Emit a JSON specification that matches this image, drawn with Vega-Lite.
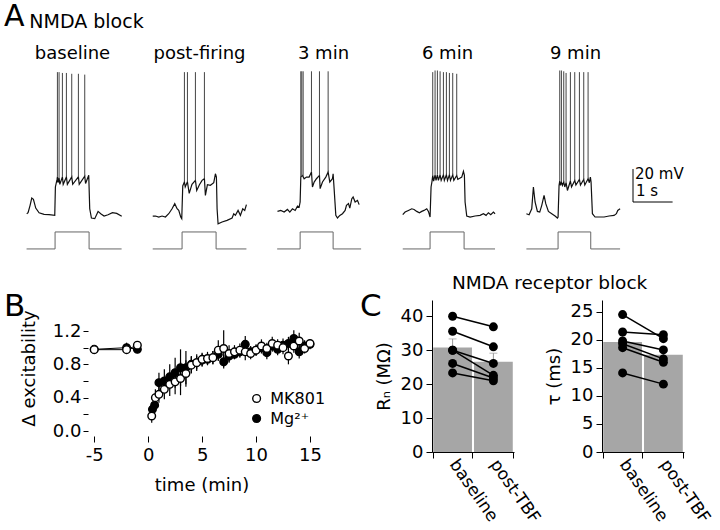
{
"$schema":"https://vega.github.io/schema/vega-lite/v6.json",
"padding":{"left":4,"top":2,"right":0,"bottom":0},
"background":"white",
"config":{
 "font":"DejaVu Sans",
 "view":{"stroke":null},
 "title":{"font":"DejaVu Sans","fontSize":18,"fontWeight":"normal","color":"black"},
 "axis":{"domainColor":"black","tickColor":"black","labelColor":"black","titleColor":"black","labelFont":"DejaVu Sans","titleFont":"DejaVu Sans","labelFontSize":18,"titleFontSize":18,"titleFontWeight":"normal","grid":false,"labelFlush":false,"labelOverlap":false},
 "legend":{"labelFont":"DejaVu Sans","labelColor":"black"}
},
"datasets":{
 "vm":[
  {"cond":"baseline","t":0.034,"v":-64.8},{"cond":"baseline","t":0.068,"v":-64.2},{"cond":"baseline","t":0.119,"v":-59.7},{"cond":"baseline","t":0.161,"v":-55.3},{"cond":"baseline","t":0.203,"v":-56.1},{"cond":"baseline","t":0.262,"v":-61.4},{"cond":"baseline","t":0.346,"v":-64.2},{"cond":"baseline","t":0.472,"v":-65.2},{"cond":"baseline","t":0.598,"v":-65.4},{"cond":"baseline","t":0.742,"v":-65.8},{"cond":"baseline","t":0.758,"v":-48.6},{"cond":"baseline","t":0.8,"v":-44.0},{"cond":"baseline","t":0.809,"v":-42.5},{"cond":"baseline","t":0.825,"v":-46.0},{"cond":"baseline","t":0.851,"v":-43.0},{"cond":"baseline","t":0.87,"v":-47.0},{"cond":"baseline","t":0.935,"v":-42.5},{"cond":"baseline","t":0.955,"v":-47.0},{"cond":"baseline","t":1.036,"v":-42.5},{"cond":"baseline","t":1.06,"v":-47.0},{"cond":"baseline","t":1.171,"v":-42.5},{"cond":"baseline","t":1.195,"v":-47.0},{"cond":"baseline","t":1.339,"v":-42.5},{"cond":"baseline","t":1.36,"v":-47.0},{"cond":"baseline","t":1.499,"v":-42.0},{"cond":"baseline","t":1.52,"v":-46.5},{"cond":"baseline","t":1.6,"v":-41.5},{"cond":"baseline","t":1.625,"v":-61.8},{"cond":"baseline","t":1.668,"v":-67.4},{"cond":"baseline","t":1.752,"v":-67.8},{"cond":"baseline","t":1.836,"v":-63.4},{"cond":"baseline","t":1.903,"v":-64.8},{"cond":"baseline","t":1.987,"v":-66.2},{"cond":"baseline","t":2.088,"v":-65.4},{"cond":"baseline","t":2.198,"v":-64.2},{"cond":"baseline","t":2.307,"v":-64.6},{"cond":"baseline","t":2.433,"v":-66.4},
  {"cond":"post","t":0.009,"v":-66.2},{"cond":"post","t":0.077,"v":-66.2},{"cond":"post","t":0.161,"v":-66.8},{"cond":"post","t":0.245,"v":-66.2},{"cond":"post","t":0.329,"v":-66.8},{"cond":"post","t":0.413,"v":-64.8},{"cond":"post","t":0.497,"v":-61.8},{"cond":"post","t":0.565,"v":-58.7},{"cond":"post","t":0.624,"v":-61.8},{"cond":"post","t":0.666,"v":-62.8},{"cond":"post","t":0.716,"v":-66.8},{"cond":"post","t":0.742,"v":-67.8},{"cond":"post","t":0.767,"v":-48.0},{"cond":"post","t":0.809,"v":-45.5},{"cond":"post","t":0.83,"v":-48.5},{"cond":"post","t":0.885,"v":-45.5},{"cond":"post","t":0.93,"v":-52.5},{"cond":"post","t":1.0,"v":-47.0},{"cond":"post","t":1.087,"v":-44.6},{"cond":"post","t":1.12,"v":-50.7},{"cond":"post","t":1.188,"v":-47.2},{"cond":"post","t":1.255,"v":-44.6},{"cond":"post","t":1.314,"v":-43.6},{"cond":"post","t":1.339,"v":-53.7},{"cond":"post","t":1.39,"v":-47.2},{"cond":"post","t":1.465,"v":-47.6},{"cond":"post","t":1.55,"v":-46.0},{"cond":"post","t":1.592,"v":-40.6},{"cond":"post","t":1.617,"v":-42.6},{"cond":"post","t":1.634,"v":-61.8},{"cond":"post","t":1.659,"v":-70.9},{"cond":"post","t":1.76,"v":-69.8},{"cond":"post","t":1.886,"v":-68.8},{"cond":"post","t":2.013,"v":-67.4},{"cond":"post","t":2.055,"v":-64.8},{"cond":"post","t":2.097,"v":-65.8},{"cond":"post","t":2.164,"v":-62.8},{"cond":"post","t":2.223,"v":-65.8},{"cond":"post","t":2.282,"v":-61.8},{"cond":"post","t":2.332,"v":-62.8},{"cond":"post","t":2.375,"v":-59.3},
  {"cond":"m3","t":0.028,"v":-63.4},{"cond":"m3","t":0.112,"v":-62.8},{"cond":"m3","t":0.196,"v":-63.8},{"cond":"m3","t":0.28,"v":-62.2},{"cond":"m3","t":0.339,"v":-63.8},{"cond":"m3","t":0.406,"v":-61.8},{"cond":"m3","t":0.474,"v":-62.8},{"cond":"m3","t":0.533,"v":-60.2},{"cond":"m3","t":0.575,"v":-60.8},{"cond":"m3","t":0.6,"v":-57.7},{"cond":"m3","t":0.617,"v":-42.6},{"cond":"m3","t":0.659,"v":-41.6},{"cond":"m3","t":0.701,"v":-43.6},{"cond":"m3","t":0.76,"v":-42.6},{"cond":"m3","t":0.827,"v":-42.6},{"cond":"m3","t":0.886,"v":-39.5},{"cond":"m3","t":0.911,"v":-48.6},{"cond":"m3","t":0.954,"v":-45.6},{"cond":"m3","t":1.012,"v":-43.6},{"cond":"m3","t":1.088,"v":-41.6},{"cond":"m3","t":1.105,"v":-49.6},{"cond":"m3","t":1.164,"v":-45.6},{"cond":"m3","t":1.248,"v":-42.6},{"cond":"m3","t":1.307,"v":-39.5},{"cond":"m3","t":1.349,"v":-45.6},{"cond":"m3","t":1.416,"v":-43.6},{"cond":"m3","t":1.433,"v":-40.6},{"cond":"m3","t":1.458,"v":-49.6},{"cond":"m3","t":1.501,"v":-65.8},{"cond":"m3","t":1.543,"v":-67.4},{"cond":"m3","t":1.602,"v":-65.8},{"cond":"m3","t":1.669,"v":-64.8},{"cond":"m3","t":1.736,"v":-62.8},{"cond":"m3","t":1.77,"v":-59.7},{"cond":"m3","t":1.821,"v":-58.7},{"cond":"m3","t":1.854,"v":-61.4},{"cond":"m3","t":1.905,"v":-55.7},{"cond":"m3","t":1.938,"v":-54.7},{"cond":"m3","t":1.989,"v":-57.7},{"cond":"m3","t":2.048,"v":-56.7},{"cond":"m3","t":2.09,"v":-59.3},
  {"cond":"m6","t":0.06,"v":-65.4},{"cond":"m6","t":0.119,"v":-63.8},{"cond":"m6","t":0.203,"v":-62.8},{"cond":"m6","t":0.287,"v":-61.8},{"cond":"m6","t":0.346,"v":-62.2},{"cond":"m6","t":0.413,"v":-63.4},{"cond":"m6","t":0.481,"v":-64.2},{"cond":"m6","t":0.54,"v":-63.4},{"cond":"m6","t":0.598,"v":-62.8},{"cond":"m6","t":0.666,"v":-61.8},{"cond":"m6","t":0.708,"v":-63.4},{"cond":"m6","t":0.75,"v":-66.8},{"cond":"m6","t":0.775,"v":-48.6},{"cond":"m6","t":0.8,"v":-45.0},{"cond":"m6","t":0.817,"v":-41.5},{"cond":"m6","t":0.84,"v":-45.0},{"cond":"m6","t":0.876,"v":-41.2},{"cond":"m6","t":0.9,"v":-44.6},{"cond":"m6","t":0.935,"v":-41.2},{"cond":"m6","t":0.96,"v":-44.6},{"cond":"m6","t":1.003,"v":-41.2},{"cond":"m6","t":1.03,"v":-44.6},{"cond":"m6","t":1.087,"v":-41.2},{"cond":"m6","t":1.11,"v":-44.6},{"cond":"m6","t":1.162,"v":-41.2},{"cond":"m6","t":1.19,"v":-44.6},{"cond":"m6","t":1.238,"v":-41.2},{"cond":"m6","t":1.265,"v":-44.6},{"cond":"m6","t":1.322,"v":-41.2},{"cond":"m6","t":1.35,"v":-44.6},{"cond":"m6","t":1.423,"v":-41.6},{"cond":"m6","t":1.45,"v":-44.0},{"cond":"m6","t":1.55,"v":-42.6},{"cond":"m6","t":1.592,"v":-39.1},{"cond":"m6","t":1.617,"v":-41.6},{"cond":"m6","t":1.634,"v":-57.7},{"cond":"m6","t":1.676,"v":-66.2},{"cond":"m6","t":1.76,"v":-66.8},{"cond":"m6","t":1.886,"v":-66.2},{"cond":"m6","t":2.013,"v":-65.8},{"cond":"m6","t":2.097,"v":-64.8},{"cond":"m6","t":2.164,"v":-65.8},{"cond":"m6","t":2.223,"v":-64.2},{"cond":"m6","t":2.282,"v":-65.4},{"cond":"m6","t":2.349,"v":-63.8},{"cond":"m6","t":2.391,"v":-64.8},
  {"cond":"m9","t":-0.05,"v":-64.8},{"cond":"m9","t":0.018,"v":-65.4},{"cond":"m9","t":0.085,"v":-61.8},{"cond":"m9","t":0.127,"v":-48.6},{"cond":"m9","t":0.169,"v":-57.7},{"cond":"m9","t":0.228,"v":-63.4},{"cond":"m9","t":0.287,"v":-63.8},{"cond":"m9","t":0.338,"v":-59.7},{"cond":"m9","t":0.396,"v":-53.7},{"cond":"m9","t":0.439,"v":-58.7},{"cond":"m9","t":0.506,"v":-63.4},{"cond":"m9","t":0.59,"v":-64.8},{"cond":"m9","t":0.674,"v":-66.2},{"cond":"m9","t":0.733,"v":-67.4},{"cond":"m9","t":0.75,"v":-66.8},{"cond":"m9","t":0.775,"v":-47.6},{"cond":"m9","t":0.792,"v":-45.0},{"cond":"m9","t":0.81,"v":-47.6},{"cond":"m9","t":0.834,"v":-45.6},{"cond":"m9","t":0.86,"v":-47.6},{"cond":"m9","t":0.893,"v":-45.6},{"cond":"m9","t":0.92,"v":-48.6},{"cond":"m9","t":0.952,"v":-46.0},{"cond":"m9","t":0.986,"v":-50.7},{"cond":"m9","t":1.061,"v":-45.0},{"cond":"m9","t":1.09,"v":-48.6},{"cond":"m9","t":1.171,"v":-44.6},{"cond":"m9","t":1.2,"v":-47.4},{"cond":"m9","t":1.289,"v":-44.0},{"cond":"m9","t":1.315,"v":-47.4},{"cond":"m9","t":1.398,"v":-44.0},{"cond":"m9","t":1.425,"v":-47.4},{"cond":"m9","t":1.508,"v":-43.6},{"cond":"m9","t":1.54,"v":-46.0},{"cond":"m9","t":1.566,"v":-42.6},{"cond":"m9","t":1.583,"v":-45.6},{"cond":"m9","t":1.617,"v":-64.8},{"cond":"m9","t":1.684,"v":-66.8},{"cond":"m9","t":1.785,"v":-66.8},{"cond":"m9","t":1.912,"v":-66.8},{"cond":"m9","t":2.038,"v":-66.2},{"cond":"m9","t":2.164,"v":-65.8},{"cond":"m9","t":2.223,"v":-64.8},{"cond":"m9","t":2.257,"v":-62.8},{"cond":"m9","t":2.316,"v":-61.8}
 ],
 "spikes":[
  {"cond":"baseline","t":0.809,"vb":-42.5,"vpk":21},{"cond":"baseline","t":0.851,"vb":-43,"vpk":21},{"cond":"baseline","t":0.935,"vb":-42.5,"vpk":20.5},{"cond":"baseline","t":1.036,"vb":-42.5,"vpk":20.5},{"cond":"baseline","t":1.171,"vb":-42.5,"vpk":20},{"cond":"baseline","t":1.339,"vb":-42.5,"vpk":20},{"cond":"baseline","t":1.499,"vb":-42,"vpk":19.5},
  {"cond":"post","t":0.809,"vb":-45.5,"vpk":21},{"cond":"post","t":0.885,"vb":-45.5,"vpk":21},{"cond":"post","t":1.087,"vb":-44.6,"vpk":21},{"cond":"post","t":1.314,"vb":-43.6,"vpk":21},
  {"cond":"m3","t":0.617,"vb":-42.6,"vpk":21.5},{"cond":"m3","t":0.642,"vb":-42,"vpk":21.5},{"cond":"m3","t":0.676,"vb":-42.5,"vpk":21.5},{"cond":"m3","t":0.886,"vb":-39.5,"vpk":21.5},{"cond":"m3","t":1.088,"vb":-41.6,"vpk":21.5},{"cond":"m3","t":1.307,"vb":-39.5,"vpk":21.5},
  {"cond":"m6","t":0.817,"vb":-41.5,"vpk":21},{"cond":"m6","t":0.876,"vb":-41.2,"vpk":22},{"cond":"m6","t":0.935,"vb":-41.2,"vpk":22},{"cond":"m6","t":1.003,"vb":-41.2,"vpk":21.5},{"cond":"m6","t":1.087,"vb":-41.2,"vpk":21},{"cond":"m6","t":1.162,"vb":-41.2,"vpk":21},{"cond":"m6","t":1.238,"vb":-41.2,"vpk":20.5},{"cond":"m6","t":1.322,"vb":-41.2,"vpk":20.5},{"cond":"m6","t":1.423,"vb":-41.6,"vpk":20},
  {"cond":"m9","t":0.792,"vb":-45,"vpk":22},{"cond":"m9","t":0.834,"vb":-45.6,"vpk":22},{"cond":"m9","t":0.893,"vb":-45.6,"vpk":21.5},{"cond":"m9","t":0.952,"vb":-46,"vpk":20.5},{"cond":"m9","t":1.061,"vb":-45,"vpk":21},{"cond":"m9","t":1.171,"vb":-44.6,"vpk":21},{"cond":"m9","t":1.289,"vb":-44,"vpk":21},{"cond":"m9","t":1.398,"vb":-44,"vpk":21},{"cond":"m9","t":1.508,"vb":-43.6,"vpk":21}
 ],
 "step":[
  {"cond":"baseline","k":0,"t":0.03,"I":0},{"cond":"baseline","k":1,"t":0.75,"I":0},{"cond":"baseline","k":2,"t":0.75,"I":1},{"cond":"baseline","k":3,"t":1.609,"I":1},{"cond":"baseline","k":4,"t":1.609,"I":0},{"cond":"baseline","k":5,"t":2.43,"I":0},
  {"cond":"post","k":0,"t":0.009,"I":0},{"cond":"post","k":1,"t":0.75,"I":0},{"cond":"post","k":2,"t":0.75,"I":1},{"cond":"post","k":3,"t":1.609,"I":1},{"cond":"post","k":4,"t":1.609,"I":0},{"cond":"post","k":5,"t":2.375,"I":0},
  {"cond":"m3","k":0,"t":0.02,"I":0},{"cond":"m3","k":1,"t":0.6,"I":0},{"cond":"m3","k":2,"t":0.6,"I":1},{"cond":"m3","k":3,"t":1.433,"I":1},{"cond":"m3","k":4,"t":1.433,"I":0},{"cond":"m3","k":5,"t":2.14,"I":0},
  {"cond":"m6","k":0,"t":0.06,"I":0},{"cond":"m6","k":1,"t":0.75,"I":0},{"cond":"m6","k":2,"t":0.75,"I":1},{"cond":"m6","k":3,"t":1.609,"I":1},{"cond":"m6","k":4,"t":1.609,"I":0},{"cond":"m6","k":5,"t":2.39,"I":0},
  {"cond":"m9","k":0,"t":-0.05,"I":0},{"cond":"m9","k":1,"t":0.75,"I":0},{"cond":"m9","k":2,"t":0.75,"I":1},{"cond":"m9","k":3,"t":1.575,"I":1},{"cond":"m9","k":4,"t":1.575,"I":0},{"cond":"m9","k":5,"t":2.316,"I":0}
 ],
 "excit":[
  {"group":"Mg²⁺","t":-5,"ratio":0.98,"sem":0.02},{"group":"Mg²⁺","t":-2,"ratio":1.0,"sem":0.06},{"group":"Mg²⁺","t":-1,"ratio":0.98,"sem":0.03},
  {"group":"Mg²⁺","t":0.4,"ratio":0.26,"sem":0.08},{"group":"Mg²⁺","t":0.6,"ratio":0.31,"sem":0.08},{"group":"Mg²⁺","t":1.0,"ratio":0.58,"sem":0.12},{"group":"Mg²⁺","t":1.5,"ratio":0.6,"sem":0.14},{"group":"Mg²⁺","t":2.0,"ratio":0.65,"sem":0.15},{"group":"Mg²⁺","t":2.5,"ratio":0.7,"sem":0.18},{"group":"Mg²⁺","t":3.0,"ratio":0.76,"sem":0.22},{"group":"Mg²⁺","t":3.5,"ratio":0.76,"sem":0.2},{"group":"Mg²⁺","t":4.0,"ratio":0.8,"sem":0.1},{"group":"Mg²⁺","t":4.5,"ratio":0.82,"sem":0.08},{"group":"Mg²⁺","t":5.0,"ratio":0.85,"sem":0.08},{"group":"Mg²⁺","t":5.5,"ratio":0.86,"sem":0.07},{"group":"Mg²⁺","t":6.0,"ratio":0.88,"sem":0.08},{"group":"Mg²⁺","t":6.5,"ratio":0.92,"sem":0.08},{"group":"Mg²⁺","t":7.0,"ratio":0.83,"sem":0.08},{"group":"Mg²⁺","t":7.5,"ratio":0.9,"sem":0.08},{"group":"Mg²⁺","t":8.0,"ratio":0.92,"sem":0.06},{"group":"Mg²⁺","t":8.5,"ratio":0.95,"sem":0.07},{"group":"Mg²⁺","t":9.0,"ratio":1.04,"sem":0.1},{"group":"Mg²⁺","t":9.5,"ratio":0.95,"sem":0.07},{"group":"Mg²⁺","t":10.0,"ratio":0.97,"sem":0.06},{"group":"Mg²⁺","t":10.5,"ratio":1.0,"sem":0.07},{"group":"Mg²⁺","t":11.0,"ratio":0.94,"sem":0.08},{"group":"Mg²⁺","t":11.5,"ratio":1.02,"sem":0.07},{"group":"Mg²⁺","t":12.0,"ratio":0.98,"sem":0.07},{"group":"Mg²⁺","t":12.5,"ratio":1.03,"sem":0.08},{"group":"Mg²⁺","t":13.0,"ratio":1.05,"sem":0.08},{"group":"Mg²⁺","t":13.5,"ratio":1.11,"sem":0.1},{"group":"Mg²⁺","t":14.0,"ratio":0.95,"sem":0.08},{"group":"Mg²⁺","t":14.5,"ratio":1.02,"sem":0.07},{"group":"Mg²⁺","t":15.0,"ratio":1.04,"sem":0.06},
  {"group":"MK801","t":-5,"ratio":0.976,"sem":0.02},{"group":"MK801","t":-2,"ratio":0.976,"sem":0.03},{"group":"MK801","t":-1,"ratio":1.03,"sem":0.04},
  {"group":"MK801","t":0.33,"ratio":0.18,"sem":0.08},{"group":"MK801","t":0.67,"ratio":0.4,"sem":0.1},{"group":"MK801","t":1.0,"ratio":0.44,"sem":0.1},{"group":"MK801","t":1.5,"ratio":0.5,"sem":0.12},{"group":"MK801","t":2.0,"ratio":0.56,"sem":0.14},{"group":"MK801","t":2.5,"ratio":0.59,"sem":0.15},{"group":"MK801","t":3.0,"ratio":0.63,"sem":0.2},{"group":"MK801","t":3.5,"ratio":0.69,"sem":0.16},{"group":"MK801","t":4.0,"ratio":0.79,"sem":0.1},{"group":"MK801","t":4.5,"ratio":0.82,"sem":0.1},{"group":"MK801","t":5.0,"ratio":0.86,"sem":0.08},{"group":"MK801","t":5.5,"ratio":0.87,"sem":0.08},{"group":"MK801","t":6.0,"ratio":0.88,"sem":0.08},{"group":"MK801","t":6.5,"ratio":0.97,"sem":0.12},{"group":"MK801","t":7.0,"ratio":0.99,"sem":0.22},{"group":"MK801","t":7.5,"ratio":0.93,"sem":0.1},{"group":"MK801","t":8.0,"ratio":0.95,"sem":0.08},{"group":"MK801","t":8.5,"ratio":0.97,"sem":0.08},{"group":"MK801","t":9.0,"ratio":0.95,"sem":0.1},{"group":"MK801","t":9.5,"ratio":0.93,"sem":0.07},{"group":"MK801","t":10.0,"ratio":0.97,"sem":0.07},{"group":"MK801","t":10.5,"ratio":1.02,"sem":0.08},{"group":"MK801","t":11.0,"ratio":0.99,"sem":0.07},{"group":"MK801","t":11.5,"ratio":1.05,"sem":0.08},{"group":"MK801","t":12.0,"ratio":1.03,"sem":0.07},{"group":"MK801","t":12.5,"ratio":1.0,"sem":0.08},{"group":"MK801","t":13.0,"ratio":0.9,"sem":0.1},{"group":"MK801","t":13.5,"ratio":1.02,"sem":0.08},{"group":"MK801","t":14.0,"ratio":1.08,"sem":0.1},{"group":"MK801","t":14.5,"ratio":0.99,"sem":0.06},{"group":"MK801","t":15.0,"ratio":1.05,"sem":0.05}
 ],
 "cells":[
  {"panel":"RN","cell":1,"cond":"baseline","val":40.0},{"panel":"RN","cell":1,"cond":"post-TBF","val":36.9},
  {"panel":"RN","cell":2,"cond":"baseline","val":35.6},{"panel":"RN","cell":2,"cond":"post-TBF","val":31.0},
  {"panel":"RN","cell":3,"cond":"baseline","val":30.0},{"panel":"RN","cell":3,"cond":"post-TBF","val":26.1},
  {"panel":"RN","cell":4,"cond":"baseline","val":30.0},{"panel":"RN","cell":4,"cond":"post-TBF","val":22.6},
  {"panel":"RN","cell":5,"cond":"baseline","val":26.1},{"panel":"RN","cell":5,"cond":"post-TBF","val":21.8},
  {"panel":"RN","cell":6,"cond":"baseline","val":23.3},{"panel":"RN","cell":6,"cond":"post-TBF","val":21.0},
  {"panel":"tau","cell":1,"cond":"baseline","val":24.5},{"panel":"tau","cell":1,"cond":"post-TBF","val":20.2},
  {"panel":"tau","cell":2,"cond":"baseline","val":21.4},{"panel":"tau","cell":2,"cond":"post-TBF","val":20.9},
  {"panel":"tau","cell":3,"cond":"baseline","val":19.8},{"panel":"tau","cell":3,"cond":"post-TBF","val":18.2},
  {"panel":"tau","cell":4,"cond":"baseline","val":19.3},{"panel":"tau","cell":4,"cond":"post-TBF","val":16.6},
  {"panel":"tau","cell":5,"cond":"baseline","val":18.6},{"panel":"tau","cell":5,"cond":"post-TBF","val":16.0},
  {"panel":"tau","cell":6,"cond":"baseline","val":14.1},{"panel":"tau","cell":6,"cond":"post-TBF","val":12.1}
 ]
},
"spacing":22,
"vconcat":[
 {
  "title":{"text":"A","fontSize":30,"anchor":"start","frame":"bounds","dx":-19,"offset":-19},
  "spacing":7,
  "hconcat":[
   {"title":{"text":"NMDA block","fontSize":19,"anchor":"start","frame":"bounds","dx":6.3,"offset":12.8},
    "spacing":25,"hconcat":[
    {"width":99,"height":183,"title":{"text":"baseline","offset":6},
     "layer":[
      {"data":{"name":"vm"},"transform":[{"filter":"datum.cond === 'baseline'"}],"mark":{"type":"line","color":"#111111","strokeWidth":1.2},
       "encoding":{"x":{"field":"t","type":"quantitative","scale":{"domain":[-0.06,2.44],"nice":false,"zero":false},"axis":null},"y":{"field":"v","type":"quantitative","scale":{"domain":[-88,22.9],"nice":false,"zero":false},"axis":null}}},
      {"data":{"name":"spikes"},"transform":[{"filter":"datum.cond === 'baseline'"}],"mark":{"type":"rule","color":"#444444","strokeWidth":1},
       "encoding":{"x":{"field":"t","type":"quantitative","scale":{"domain":[-0.06,2.44],"nice":false,"zero":false},"axis":null},"y":{"field":"vb","type":"quantitative","scale":{"domain":[-88,22.9],"nice":false,"zero":false},"axis":null},"y2":{"field":"vpk"}}},
      {"data":{"name":"step"},"transform":[{"filter":"datum.cond === 'baseline'"}],"mark":{"type":"line","color":"#666666","strokeWidth":1},
       "encoding":{"x":{"field":"t","type":"quantitative","scale":{"domain":[-0.06,2.44],"nice":false,"zero":false},"axis":null},"y":{"field":"I","type":"quantitative","scale":{"domain":[-0.18,10.6],"nice":false,"zero":false},"axis":null},"order":{"field":"k","type":"quantitative"}}}
     ],
     "resolve":{"scale":{"y":"independent"}}},
    {"width":99,"height":183,"title":{"text":"post-firing","offset":6},
     "layer":[
      {"data":{"name":"vm"},"transform":[{"filter":"datum.cond === 'post'"}],"mark":{"type":"line","color":"#111111","strokeWidth":1.2},
       "encoding":{"x":{"field":"t","type":"quantitative","scale":{"domain":[-0.06,2.44],"nice":false,"zero":false},"axis":null},"y":{"field":"v","type":"quantitative","scale":{"domain":[-88,22.9],"nice":false,"zero":false},"axis":null}}},
      {"data":{"name":"spikes"},"transform":[{"filter":"datum.cond === 'post'"}],"mark":{"type":"rule","color":"#444444","strokeWidth":1},
       "encoding":{"x":{"field":"t","type":"quantitative","scale":{"domain":[-0.06,2.44],"nice":false,"zero":false},"axis":null},"y":{"field":"vb","type":"quantitative","scale":{"domain":[-88,22.9],"nice":false,"zero":false},"axis":null},"y2":{"field":"vpk"}}},
      {"data":{"name":"step"},"transform":[{"filter":"datum.cond === 'post'"}],"mark":{"type":"line","color":"#666666","strokeWidth":1},
       "encoding":{"x":{"field":"t","type":"quantitative","scale":{"domain":[-0.06,2.44],"nice":false,"zero":false},"axis":null},"y":{"field":"I","type":"quantitative","scale":{"domain":[-0.18,10.6],"nice":false,"zero":false},"axis":null},"order":{"field":"k","type":"quantitative"}}}
     ],
     "resolve":{"scale":{"y":"independent"}}},
    {"width":99,"height":183,"title":{"text":"3 min","offset":6},
     "layer":[
      {"data":{"name":"vm"},"transform":[{"filter":"datum.cond === 'm3'"}],"mark":{"type":"line","color":"#111111","strokeWidth":1.2},
       "encoding":{"x":{"field":"t","type":"quantitative","scale":{"domain":[-0.06,2.44],"nice":false,"zero":false},"axis":null},"y":{"field":"v","type":"quantitative","scale":{"domain":[-88,22.9],"nice":false,"zero":false},"axis":null}}},
      {"data":{"name":"spikes"},"transform":[{"filter":"datum.cond === 'm3'"}],"mark":{"type":"rule","color":"#444444","strokeWidth":1},
       "encoding":{"x":{"field":"t","type":"quantitative","scale":{"domain":[-0.06,2.44],"nice":false,"zero":false},"axis":null},"y":{"field":"vb","type":"quantitative","scale":{"domain":[-88,22.9],"nice":false,"zero":false},"axis":null},"y2":{"field":"vpk"}}},
      {"data":{"name":"step"},"transform":[{"filter":"datum.cond === 'm3'"}],"mark":{"type":"line","color":"#666666","strokeWidth":1},
       "encoding":{"x":{"field":"t","type":"quantitative","scale":{"domain":[-0.06,2.44],"nice":false,"zero":false},"axis":null},"y":{"field":"I","type":"quantitative","scale":{"domain":[-0.18,10.6],"nice":false,"zero":false},"axis":null},"order":{"field":"k","type":"quantitative"}}}
     ],
     "resolve":{"scale":{"y":"independent"}}},
    {"width":99,"height":183,"title":{"text":"6 min","offset":6},
     "layer":[
      {"data":{"name":"vm"},"transform":[{"filter":"datum.cond === 'm6'"}],"mark":{"type":"line","color":"#111111","strokeWidth":1.2},
       "encoding":{"x":{"field":"t","type":"quantitative","scale":{"domain":[-0.06,2.44],"nice":false,"zero":false},"axis":null},"y":{"field":"v","type":"quantitative","scale":{"domain":[-88,22.9],"nice":false,"zero":false},"axis":null}}},
      {"data":{"name":"spikes"},"transform":[{"filter":"datum.cond === 'm6'"}],"mark":{"type":"rule","color":"#444444","strokeWidth":1},
       "encoding":{"x":{"field":"t","type":"quantitative","scale":{"domain":[-0.06,2.44],"nice":false,"zero":false},"axis":null},"y":{"field":"vb","type":"quantitative","scale":{"domain":[-88,22.9],"nice":false,"zero":false},"axis":null},"y2":{"field":"vpk"}}},
      {"data":{"name":"step"},"transform":[{"filter":"datum.cond === 'm6'"}],"mark":{"type":"line","color":"#666666","strokeWidth":1},
       "encoding":{"x":{"field":"t","type":"quantitative","scale":{"domain":[-0.06,2.44],"nice":false,"zero":false},"axis":null},"y":{"field":"I","type":"quantitative","scale":{"domain":[-0.18,10.6],"nice":false,"zero":false},"axis":null},"order":{"field":"k","type":"quantitative"}}}
     ],
     "resolve":{"scale":{"y":"independent"}}},
    {"width":99,"height":183,"title":{"text":"9 min","offset":6},
     "layer":[
      {"data":{"name":"vm"},"transform":[{"filter":"datum.cond === 'm9'"}],"mark":{"type":"line","color":"#111111","strokeWidth":1.2},
       "encoding":{"x":{"field":"t","type":"quantitative","scale":{"domain":[-0.06,2.44],"nice":false,"zero":false},"axis":null},"y":{"field":"v","type":"quantitative","scale":{"domain":[-88,22.9],"nice":false,"zero":false},"axis":null}}},
      {"data":{"name":"spikes"},"transform":[{"filter":"datum.cond === 'm9'"}],"mark":{"type":"rule","color":"#444444","strokeWidth":1},
       "encoding":{"x":{"field":"t","type":"quantitative","scale":{"domain":[-0.06,2.44],"nice":false,"zero":false},"axis":null},"y":{"field":"vb","type":"quantitative","scale":{"domain":[-88,22.9],"nice":false,"zero":false},"axis":null},"y2":{"field":"vpk"}}},
      {"data":{"name":"step"},"transform":[{"filter":"datum.cond === 'm9'"}],"mark":{"type":"line","color":"#666666","strokeWidth":1},
       "encoding":{"x":{"field":"t","type":"quantitative","scale":{"domain":[-0.06,2.44],"nice":false,"zero":false},"axis":null},"y":{"field":"I","type":"quantitative","scale":{"domain":[-0.18,10.6],"nice":false,"zero":false},"axis":null},"order":{"field":"k","type":"quantitative"}}}
     ],
     "resolve":{"scale":{"y":"independent"}}}
   ]},
   {"width":60,"height":183,
    "data":{"values":[{}]},
    "layer":[
     {"mark":{"type":"rule","color":"black","strokeWidth":1},"encoding":{"x":{"datum":0,"type":"quantitative","scale":{"domain":[0,1.515],"nice":false,"zero":false},"axis":null},"y":{"datum":-57.7,"type":"quantitative","scale":{"domain":[-88,22.9],"nice":false,"zero":false},"axis":null},"y2":{"datum":-37.7}}},
     {"mark":{"type":"rule","color":"black","strokeWidth":1},"encoding":{"x":{"datum":0,"type":"quantitative"},"x2":{"datum":1},"y":{"datum":-57.7,"type":"quantitative"}}},
     {"mark":{"type":"text","text":"20 mV","align":"left","baseline":"middle","fontSize":15,"dx":2,"color":"black"},"encoding":{"x":{"datum":0,"type":"quantitative"},"y":{"datum":-40.6,"type":"quantitative"}}},
     {"mark":{"type":"text","text":"1 s","align":"left","baseline":"middle","fontSize":15,"dx":3,"color":"black"},"encoding":{"x":{"datum":0,"type":"quantitative"},"y":{"datum":-51.3,"type":"quantitative"}}}
    ]}
  ]
 },
 {
  "spacing":38,
  "hconcat":[
   {"width":287,"height":136,
    "title":{"text":"B","fontSize":31,"anchor":"start","frame":"group","dx":-19,"offset":-22.5},
    "data":{"name":"excit"},
    "encoding":{
     "x":{"field":"t","type":"quantitative","scale":{"domain":[-11.6,15],"nice":false,"zero":false},"axis":{"values":[-5,0,5,10,15],"labelExpr":"'' + datum.value","title":"time (min)","tickSize":6,"labelPadding":4,"titlePadding":12,"domain":false,"titleX":178.5}},
     "y":{"field":"ratio","type":"quantitative","scale":{"domain":[-0.06,1.572],"nice":false,"zero":false},"axis":{"values":[0,0.2,0.4,0.6,0.8,1,1.2],"labelExpr":"round(datum.value*10) % 4 == 0 ? format(datum.value, '.1f') : ''","title":"Δ excitability","tickSize":5,"labelPadding":2,"titlePadding":14,"domain":false,"offset":-65}}
    },
    "layer":[
     {"data":{"values":[{}]},"mark":{"type":"rule","color":"black","strokeWidth":1},"encoding":{"x":{"datum":-5.6,"type":"quantitative"},"y":{"datum":-0.06,"type":"quantitative"},"y2":{"datum":1.392}}},
     {"data":{"values":[{}]},"mark":{"type":"rule","color":"black","strokeWidth":1},"encoding":{"x":{"datum":-5.6,"type":"quantitative"},"x2":{"datum":15},"y":{"datum":-0.06,"type":"quantitative"}}},
     {"mark":{"type":"errorbar","color":"black","thickness":1.2},"encoding":{"yError":{"field":"sem"}}},
     {"transform":[{"filter":"datum.t < 0"}],"mark":{"type":"line","color":"black","strokeWidth":1},"encoding":{"detail":{"field":"group","type":"nominal"}}},
     {"mark":{"type":"point","shape":"circle","filled":true,"stroke":"black","strokeWidth":1.4,"size":58,"opacity":1},
      "encoding":{"fill":{"field":"group","type":"nominal","scale":{"domain":["MK801","Mg²⁺"],"range":["white","black"]},
       "legend":{"title":null,"orient":"none","legendX":225.6,"legendY":321.5,"labelFontSize":16,"symbolSize":60,"symbolType":"circle","symbolStrokeColor":"black","symbolStrokeWidth":1.4,"rowPadding":4,"labelOffset":5.7,"padding":0}}}}
    ]},
   {
    "title":{"text":"NMDA receptor block","fontSize":18.5,"anchor":"start","frame":"group","offset":-2.4,"dx":20},
    "bounds":"flush",
    "spacing":88,
    "hconcat":[
     {"width":82,"height":152,
      "title":{"text":"C","fontSize":31,"anchor":"start","frame":"group","dx":-72,"offset":-22.5},
      "data":{"name":"cells"},"transform":[{"filter":"datum.panel === 'RN'"}],
      "encoding":{
       "x":{"field":"cond","type":"nominal","sort":["baseline","post-TBF"],"scale":{"paddingInner":0.05,"paddingOuter":0.03},"axis":{"title":null,"labelAngle":55,"labelAlign":"left","labelBaseline":"middle","tickBand":"extent","tickSize":6,"labelPadding":3,"labelFontSize":17}},
       "y":{"field":"val","type":"quantitative","scale":{"domain":[0,44.8],"nice":false},"axis":{"title":"Rₙ (MΩ)","values":[0,10,20,30,40],"tickSize":6,"labelPadding":3,"titlePadding":7}}
      },
      "layer":[
       {"mark":{"type":"errorbar","extent":"stderr","ticks":{"size":8},"color":"#999999"}},
       {"mark":{"type":"bar","color":"#a6a6a6"},"encoding":{"y":{"aggregate":"mean","field":"val","type":"quantitative","scale":{"domain":[0,44.8],"nice":false},"axis":{"title":"Rₙ (MΩ)","values":[0,10,20,30,40],"tickSize":6,"labelPadding":3,"titlePadding":7}}}},
       {"mark":{"type":"line","color":"black","strokeWidth":1.5},"encoding":{"detail":{"field":"cell","type":"nominal"}}},
       {"mark":{"type":"point","filled":true,"color":"black","size":80,"opacity":1}}
      ]},
     {"width":82,"height":152,
      "data":{"name":"cells"},"transform":[{"filter":"datum.panel === 'tau'"}],
      "encoding":{
       "x":{"field":"cond","type":"nominal","sort":["baseline","post-TBF"],"scale":{"paddingInner":0.05,"paddingOuter":0.03},"axis":{"title":null,"labelAngle":55,"labelAlign":"left","labelBaseline":"middle","tickBand":"extent","tickSize":6,"labelPadding":3,"labelFontSize":17}},
       "y":{"field":"val","type":"quantitative","scale":{"domain":[0,27.1],"nice":false},"axis":{"title":"τ (ms)","values":[0,5,10,15,20,25],"tickSize":6,"labelPadding":3,"titlePadding":7}}
      },
      "layer":[
       {"mark":{"type":"errorbar","extent":"stderr","ticks":{"size":8},"color":"#999999"}},
       {"mark":{"type":"bar","color":"#a6a6a6"},"encoding":{"y":{"aggregate":"mean","field":"val","type":"quantitative","scale":{"domain":[0,27.1],"nice":false},"axis":{"title":"τ (ms)","values":[0,5,10,15,20,25],"tickSize":6,"labelPadding":3,"titlePadding":7}}}},
       {"mark":{"type":"line","color":"black","strokeWidth":1.5},"encoding":{"detail":{"field":"cell","type":"nominal"}}},
       {"mark":{"type":"point","filled":true,"color":"black","size":80,"opacity":1}}
      ]}
    ]
   }
  ]
 }
]
}
